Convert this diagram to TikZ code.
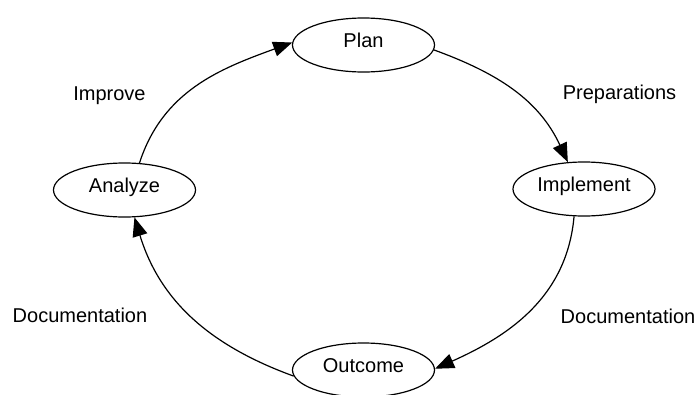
\documentclass[tikz,border=0pt]{standalone}
\usepackage{fontspec}
\setmainfont{Liberation Sans}
\usetikzlibrary{shapes.geometric,arrows.meta}
\begin{document}
\begin{tikzpicture}[x=1pt,y=-1pt,
  stage/.style={draw=black,line width=1.2pt,ellipse,minimum width=142pt,minimum height=54pt,inner sep=0pt,
    text height=10pt,text depth=6pt,font=\fontsize{20}{24}\selectfont},
  lbl/.style={anchor=base,inner sep=0pt,font=\fontsize{20}{24}\selectfont},
  flow/.style={line width=1.2pt,-{Triangle[length=19pt,width=15pt]}}]
\useasboundingbox (0,0) rectangle (699,394);
\node[stage] (plan) at (363.5,45) {Plan};
\node[stage] (impl) at (584,189) {Implement};
\node[stage] (anal) at (124.5,190) {Analyze};
\node[stage] (outc) at (363.5,370) {Outcome};
\node[lbl] (limp) at (109.5,100) {Improve};
\node[lbl] (lprep) at (619.5,99) {Preparations};
\node[lbl] (ldocl) at (80,322) {Documentation};
\node[lbl] (ldocr) at (628,323) {Documentation};
\draw[flow] (anal.61) to[out=72,in=200] (plan.178);
\draw[flow] (plan.-4) to[out=-20,in=115] (impl.121);
\draw[flow] (impl.250) to[out=-95,in=24] (outc.1);
\draw[flow] (outc.185) to[out=160,in=287] (anal.290);
\end{tikzpicture}
\end{document}
